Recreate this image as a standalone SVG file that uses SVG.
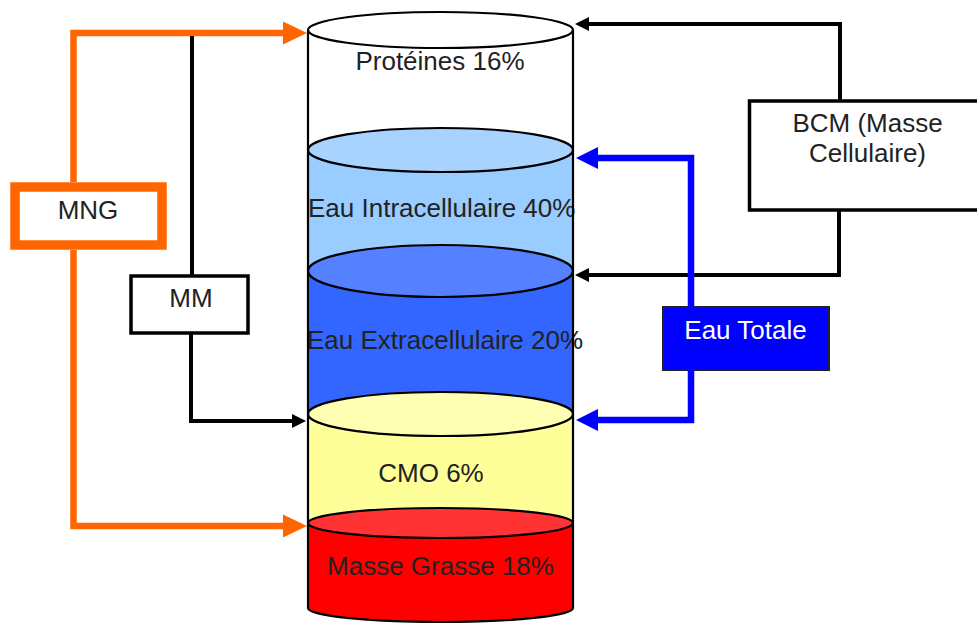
<svg xmlns="http://www.w3.org/2000/svg" width="977" height="623" viewBox="0 0 977 623">
<style>
text{font-family:"Liberation Sans",Arial,sans-serif;font-size:26px;fill:#222}
.c{text-anchor:middle}
.edge{stroke:#000;stroke-width:2.2;fill:none}
.ell{stroke:#000;stroke-width:2.2}
.box{fill:#fff;stroke:#000;stroke-width:3.5}
.lo{fill:none;stroke:#ff6600;stroke-width:6.5}
.lk{fill:none;stroke:#000;stroke-width:4}
.lb{fill:none;stroke:#0000ff;stroke-width:6.5}
</style>
<defs>
<marker id="ao" markerUnits="userSpaceOnUse" markerWidth="24" markerHeight="24" refX="0" refY="11.5" orient="auto" viewBox="0 0 24 23"><path d="M0,0 L24,11.5 L0,23 z" fill="#ff6600"/></marker>
<marker id="ak" markerUnits="userSpaceOnUse" markerWidth="14" markerHeight="14" refX="0" refY="7" orient="auto" viewBox="0 0 14 14"><path d="M0,0 L14,7 L0,14 z" fill="#000"/></marker>
<marker id="ab" markerUnits="userSpaceOnUse" markerWidth="22" markerHeight="22" refX="0" refY="11" orient="auto" viewBox="0 0 22 22"><path d="M0,0 L22,11 L0,22 z" fill="#0000ff"/></marker>
</defs>

<g id="cylinder">
  <g id="proteines">
    <rect x="308" y="30" width="265" height="120" fill="#fff"/>
    <ellipse class="ell" cx="440.5" cy="30" rx="132.5" ry="18" fill="#fff"/>
    <text class="c" x="440" y="70">Protéines 16%</text>
  </g>
  <g id="eau-intra">
    <rect x="308" y="150" width="265" height="121" fill="#99ccff"/>
    <ellipse class="ell" cx="440.5" cy="150" rx="132.5" ry="22" fill="#a8d3ff"/>
    <text x="308" y="217">Eau Intracellulaire 40%</text>
  </g>
  <g id="eau-extra">
    <rect x="308" y="271" width="265" height="143" fill="#3366ff"/>
    <ellipse class="ell" cx="440.5" cy="271" rx="132.5" ry="26" fill="#5580ff"/>
    <text x="307" y="349">Eau Extracellulaire 20%</text>
  </g>
  <g id="cmo">
    <rect x="308" y="414" width="265" height="109" fill="#ffff99"/>
    <ellipse class="ell" cx="440.5" cy="414" rx="132.5" ry="22" fill="#ffffb3"/>
    <text class="c" x="431" y="482">CMO 6%</text>
  </g>
  <g id="masse-grasse">
    <path d="M308,523 V608 A132.5,14 0 0 0 573,608 V523 z" fill="#ff0000"/>
    <ellipse class="ell" cx="440.5" cy="523" rx="132.5" ry="15" fill="#ff3333"/>
    <text class="c" x="440.5" y="575">Masse Grasse 18%</text>
  </g>
  <path class="edge" d="M308,30 V608 A132.5,14 0 0 0 573,608 V30"/>
</g>

<g id="MNG">
  <rect x="15" y="187" width="147" height="58" fill="#fff" stroke="#ff6600" stroke-width="9.5"/>
  <text class="c" x="88" y="219">MNG</text>
</g>
<g id="MM">
  <rect class="box" x="131" y="276" width="117" height="57" stroke-width="3"/>
  <text class="c" x="191" y="307">MM</text>
</g>
<g id="BCM">
  <rect class="box" x="749.5" y="101" width="240" height="109"/>
  <text class="c" x="867.5" y="132">BCM (Masse</text>
  <text class="c" x="867.5" y="162">Cellulaire)</text>
</g>
<g id="eau-totale">
  <rect x="663" y="307" width="166" height="63" fill="#0000ff" stroke="#222" stroke-width="2"/>
  <text class="c" x="745.5" y="339" style="fill:#fff">Eau Totale</text>
</g>

<g id="connectors">
  <path class="lo" d="M73.5,182 V33 H283" marker-end="url(#ao)"/>
  <path class="lo" d="M73.5,250 V526 H283" marker-end="url(#ao)"/>
  <path class="lk" d="M192,36 V276"/>
  <path class="lk" d="M191,333 V421 H292" marker-end="url(#ak)"/>
  <path class="lk" d="M840,101 V24 H589" marker-end="url(#ak)"/>
  <path class="lk" d="M839,210 V275 H589" marker-end="url(#ak)"/>
  <path class="lb" d="M691,307 V158 H598" marker-end="url(#ab)"/>
  <path class="lb" d="M691,370 V420 H598" marker-end="url(#ab)"/>
</g>
</svg>
